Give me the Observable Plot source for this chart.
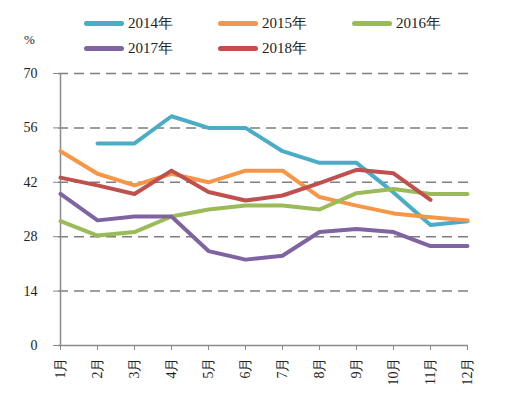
<!DOCTYPE html>
<html>
<head>
<meta charset="utf-8">
<script src="https://cdn.jsdelivr.net/npm/d3@7"></script>
<script src="https://cdn.jsdelivr.net/npm/@observablehq/plot@0.6"></script>
<style>
  body { margin: 0; background: #fff; }
  #wrap { width: 513px; font-family: "Times New Roman", "Liberation Serif", "DejaVu Serif", serif; }
  #legend { position: relative; width: 513px; height: 60px; }
  .item { position: absolute; display: flex; align-items: center; font-size: 15px; color: #222; }
  .sw { width: 40px; height: 5px; border-radius: 3px; margin-right: 4px; }
  #pct { position: absolute; left: 24px; top: 32px; font-size: 13px; color: #222; }
</style>
</head>
<body>
<div id="wrap">
  <div id="legend"><span id="pct">%</span></div>
  <div id="chart"></div>
</div>
<script>
const months = ["1月","2月","3月","4月","5月","6月","7月","8月","9月","10月","11月","12月"];
const seriesNames = ["2014年","2015年","2016年","2017年","2018年"];
const seriesColors = ["#4bacc6","#f79646","#9bbb59","#8064a2","#c0504d"];
const yTicks = [0,14,28,42,56,70];
const y2014 = [null,52,52,59,56,56,50,47,47,39.4,31,32];
const y2015 = [50,44.2,41.2,44.2,42,45,45,38.2,36,34,33,32.2];
const y2016 = [32,28.3,29.2,33.2,35,36,36,35,39.2,40.3,39,39];
const y2017 = [39,32.2,33.2,33.2,24.3,22.1,23.1,29.2,30,29.2,25.6,25.6];
const y2018 = [43.2,41.2,39,45,39.5,37.3,38.6,41.8,45.2,44.3,37.5,null];

const allSeries = [y2014, y2015, y2016, y2017, y2018];
const data = [];
allSeries.forEach((vals, i) => {
  vals.forEach((v, j) => {
    if (v !== null) data.push({series: seriesNames[i], month: months[j], value: v});
  });
});

// legend
const legendPos = [[84,14],[218,14],[352,14],[84,39],[218,39]];
const legend = document.getElementById("legend");
seriesNames.forEach((name, i) => {
  const it = document.createElement("div");
  it.className = "item";
  it.style.left = legendPos[i][0] + "px";
  it.style.top = legendPos[i][1] + "px";
  it.innerHTML = `<span class="sw" style="background:${seriesColors[i]}"></span><span>${name}</span>`;
  legend.appendChild(it);
});

const chart = Plot.plot({
  width: 513,
  height: 334,
  marginTop: 13,
  marginBottom: 49,
  marginLeft: 58,
  marginRight: 45,
  style: {fontFamily: "\"Times New Roman\", \"Liberation Serif\", \"DejaVu Serif\", serif", fontSize: "14px", color: "#222", background: "#fff"},
  x: {type: "point", domain: months, padding: 0},
  y: {domain: [0, 70]},
  color: {domain: seriesNames, range: seriesColors},
  marks: [
    Plot.ruleY(yTicks.filter(d => d > 0), {stroke: "#7f7f7f", strokeWidth: 1.5, strokeDasharray: "10,6"}),
    Plot.axisY({ticks: yTicks, tickSize: 5, tickPadding: 16, stroke: "#8a8a8a", label: null, fontSize: 14}),
    Plot.axisX({tickSize: 5, tickPadding: 7, tickRotate: -90, stroke: "#8a8a8a", label: null, fontSize: 14}),
    Plot.ruleX([months[0]], {y1: 0, y2: 70, stroke: "#8a8a8a", strokeWidth: 1.5}),
    Plot.ruleY([0], {stroke: "#8a8a8a", strokeWidth: 1.5}),
    Plot.line(data, {x: "month", y: "value", z: "series", stroke: "series", strokeWidth: 4, strokeLinejoin: "round"})
  ]
});
document.getElementById("chart").appendChild(chart);
</script>
</body>
</html>
